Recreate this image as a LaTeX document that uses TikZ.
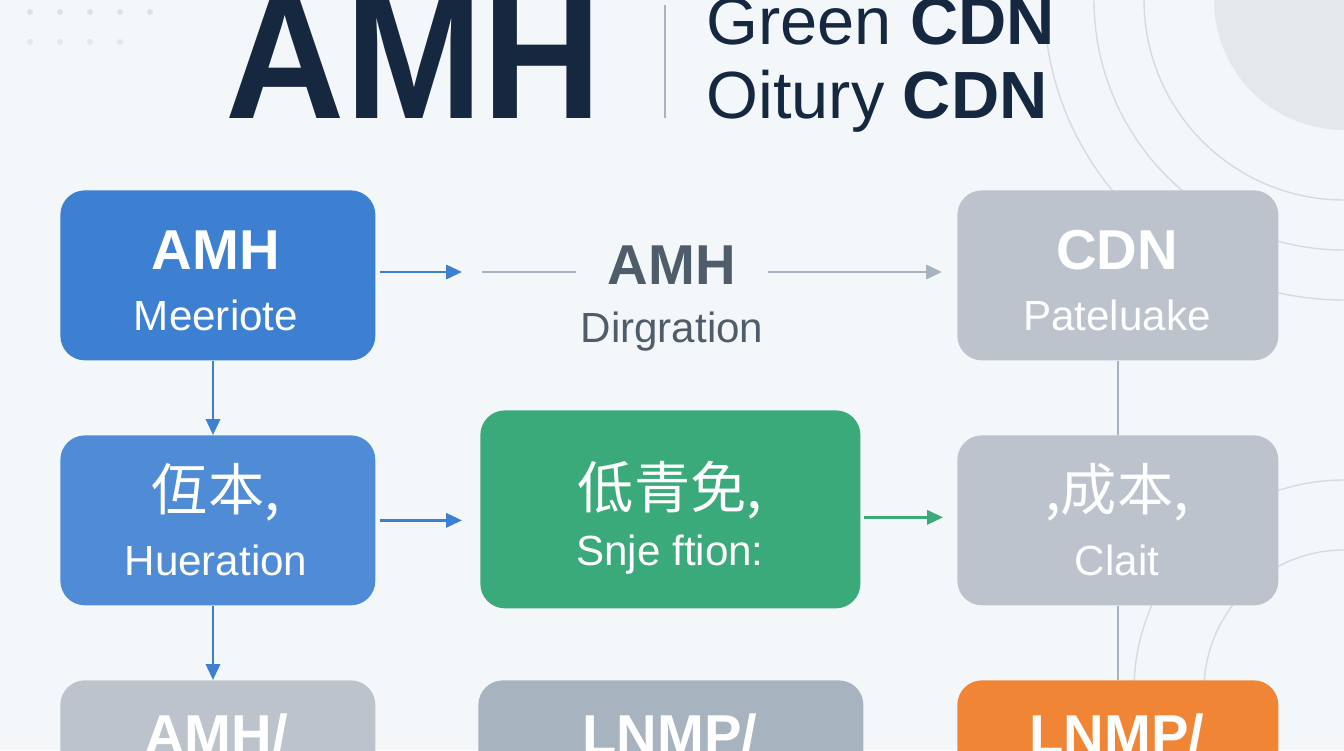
\documentclass[tikz,border=0pt]{standalone}
\usepackage{fontspec}
\setmainfont{Liberation Sans}
\newfontfamily\cjk{Noto Sans CJK SC}
\usetikzlibrary{arrows.meta}
\definecolor{bg}{HTML}{F3F7FA}
\definecolor{navy}{HTML}{16283F}
\definecolor{blu}{HTML}{3D7FD0}
\definecolor{grn}{HTML}{3BAA7A}
\definecolor{gry}{HTML}{BCC3CC}
\definecolor{gry2}{HTML}{A8B3C0}
\definecolor{org}{HTML}{F08535}
\definecolor{txg}{HTML}{4F5C6A}
\begin{document}
\begin{tikzpicture}[x=0.02cm,y=-0.02cm,
  box/.style={rounded corners=14pt,draw=none,anchor=north west,inner sep=0},
  bt/.style={text=white,font=\fontsize{32}{36}\selectfont\bfseries},
  st/.style={text=white,font=\fontsize{24}{28}\selectfont},
  arr/.style={-{Triangle[length=9pt,width=8pt]},line width=1.6pt},
  faint/.style={draw=gry!60,line width=0.8pt}]
\clip (0,0) rectangle (1344,750);
\useasboundingbox (0,0) rectangle (1344,750);
\fill[bg] (0,0) rectangle (1344,750);
% background decor
\fill[gry!40] (1344,0) circle (130);
\draw[faint] (1344,0) circle (200);
\draw[faint] (1344,0) circle (250);
\draw[faint] (1344,0) circle (300);
\draw[faint] (1344,690) circle (140);
\draw[faint] (1344,690) circle (210);
\foreach \i in {0,1,2,3,4}{\fill[gry!50] (30+30*\i,12) circle (3);}
\foreach \i in {0,1,2,3}{\fill[gry!40] (30+30*\i,42) circle (3);}
% title
\node[text=navy,font=\fontsize{84}{90}\selectfont\bfseries,anchor=base,xscale=1.12,yscale=1.2] (title) at (414,118) {AMH};
\draw[gry2,line width=0.8pt] (665,5) -- (665,118);
\node[text=navy,font=\fontsize{38}{40}\selectfont,anchor=base west,inner sep=0] (t1) at (706,45) {Green \textbf{CDN}};
\node[text=navy,font=\fontsize{38}{40}\selectfont,anchor=base west,inner sep=0] (t2) at (706,118) {Oitury \textbf{CDN}};
% boxes
\node[box,fill=blu,minimum width=315*0.02cm,minimum height=170*0.02cm] (b1) at (60,190) {};
\node[bt] at (216,250) {AMH};
\node[st] at (216,315) {Meeriote};
\node[box,fill=gry,minimum width=321*0.02cm,minimum height=170*0.02cm] (b3) at (957,190) {};
\node[bt] at (1117,250) {CDN};
\node[st] at (1117,315) {Pateluake};
\node[text=txg,font=\fontsize{32}{36}\selectfont\bfseries] (m1) at (672,265) {AMH};
\node[text=txg,font=\fontsize{24}{28}\selectfont] (m2) at (672,332) {Dirgration};
\node[box,fill=blu!90,minimum width=315*0.02cm,minimum height=170*0.02cm] (b4) at (60,435) {};
\node[st,font=\cjk\fontsize{32}{36}\selectfont] at (216,492) {仾本,};
\node[st] at (216,560) {Hueration};
\node[box,fill=grn,minimum width=380*0.02cm,minimum height=198*0.02cm] (b5) at (480,410) {};
\node[st,font=\cjk\fontsize{32}{36}\selectfont] at (670,490) {低青免,};
\node[st] at (670,555) {Snje ftion:};
\node[box,fill=gry,minimum width=321*0.02cm,minimum height=170*0.02cm] (b6) at (957,435) {};
\node[st,font=\cjk\fontsize{32}{36}\selectfont] at (1117,492) {,成本,};
\node[st] at (1117,560) {Clait};
\node[box,fill=gry,minimum width=315*0.02cm,minimum height=120*0.02cm] (b7) at (60,680) {};
\node[bt] at (216,735) {AMH/};
\node[box,fill=gry2,minimum width=385*0.02cm,minimum height=120*0.02cm] (b8) at (478,680) {};
\node[bt] at (670,735) {LNMP/};
\node[box,fill=org,minimum width=321*0.02cm,minimum height=120*0.02cm] (b9) at (957,680) {};
\node[bt] at (1117,735) {LNMP/};
% connectors
\coordinate (a1) at (462,272);
\coordinate (l1) at (482,272);
\coordinate (l2) at (576,272);
\coordinate (l3) at (768,272);
\coordinate (a2) at (942,272);
\draw[arr,blu] (b1.east |- a1) ++(4,0) -- (a1);
\draw[gry2,line width=1.6pt] (l1) -- (l2);
\draw[arr,gry2] (l3) -- (a2);
\draw[arr,blu] (b1.south -| 213,0) -- (b4.north -| 213,0);
\draw[arr,blu] (b4.south -| 213,0) -- (b7.north -| 213,0);
\draw[arr,blu] ([xshift=4*0.02cm]b4.east) -- ([xshift=-18*0.02cm]b5.west |- b4.east);
\draw[arr,grn] ([yshift=-8*0.02cm]b5.east) ++(3,0) -- ([xshift=-14*0.02cm,yshift=-8*0.02cm]b6.west |- b5.east);
\draw[gry2,line width=1.2pt] (b3.south) -- (b6.north);
\draw[gry2,line width=1.2pt] (b6.south) -- (b9.north);
\end{tikzpicture}
\end{document}
